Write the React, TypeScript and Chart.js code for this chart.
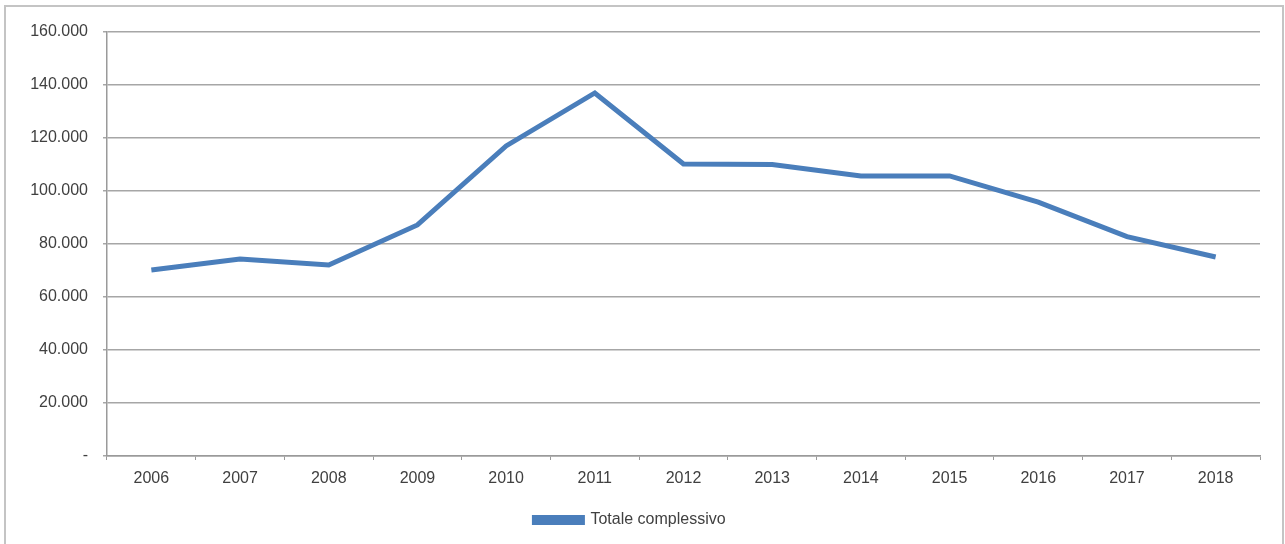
import React, { useEffect, useRef } from "react";
import { Chart, registerables } from "chart.js";

Chart.register(...registerables);

const years = ["2006", "2007", "2008", "2009", "2010", "2011", "2012", "2013", "2014", "2015", "2016", "2017", "2018"];
const totaleComplessivo = [70200, 74300, 72100, 87200, 117000, 137000, 110200, 110000, 105700, 105700, 95800, 82800, 75100];
const seriesLabel = "Totale complessivo";
const yMin = 0;
const yMax = 160000;
const yStep = 20000;

function formatIt(v: number): string {
  if (v === 0) return "-";
  const s = Math.round(v).toString();
  return s.replace(/\B(?=(\d{3})+(?!\d))/g, ".");
}

export default function App() {
  const ref = useRef<HTMLCanvasElement | null>(null);

  useEffect(() => {
    document.body.style.margin = "0";
    const ctx = ref.current!.getContext("2d")!;
    const font = { family: "'Liberation Sans', Arial, sans-serif", size: 16 };
    const chart = new Chart(ctx, {
      type: "line",
      data: {
        labels: years,
        datasets: [
          {
            label: seriesLabel,
            data: totaleComplessivo,
            borderColor: "#4a7ebb",
            backgroundColor: "#4a7ebb",
            borderWidth: 5,
            pointRadius: 0,
            tension: 0,
            fill: false,
          },
        ],
      },
      options: {
        animation: false,
        responsive: false,
        maintainAspectRatio: false,
        layout: { padding: { left: 0, right: 25, top: 32, bottom: 6 } },
        plugins: {
          tooltip: { enabled: false },
          legend: {
            position: "bottom",
            labels: {
              boxWidth: 48,
              boxHeight: 5,
              color: "#404040",
              font,
              padding: 10,
            },
          },
        },
        scales: {
          x: {
            offset: true,
            grid: {
              offset: true,
              drawOnChartArea: false,
              drawTicks: true,
              tickLength: 4,
              color: "#9a9a9a",
            },
            border: { display: true, color: "#9a9a9a", width: 1.5 },
            ticks: { color: "#404040", font, padding: 9, maxRotation: 0 },
            afterFit: (scale: any) => {
              scale.height = 46;
            },
          },
          y: {
            min: yMin,
            max: yMax,
            grid: {
              drawOnChartArea: true,
              drawTicks: true,
              tickLength: 4,
              color: "#a6a6a6",
              lineWidth: 1.5,
            },
            border: { display: true, color: "#9a9a9a", width: 1.5 },
            ticks: {
              stepSize: yStep,
              color: "#404040",
              font,
              padding: 15,
              callback: (v: any) => formatIt(Number(v)),
            },
            afterFit: (scale: any) => {
              scale.width = 107;
            },
          },
        },
      },
    });
    return () => chart.destroy();
  }, []);

  return (
    <div style={{ position: "relative", width: 1285, height: 544, overflow: "hidden", background: "#fff" }}>
      <canvas ref={ref} width={1285} height={544} style={{ position: "absolute", left: 0, top: 0, width: 1285, height: 544 }} />
      <div
        style={{
          position: "absolute",
          left: 4,
          top: 5,
          width: 1280,
          height: 560,
          border: "2px solid #c4c4c4",
          boxSizing: "border-box",
          pointerEvents: "none",
        }}
      />
    </div>
  );
}
